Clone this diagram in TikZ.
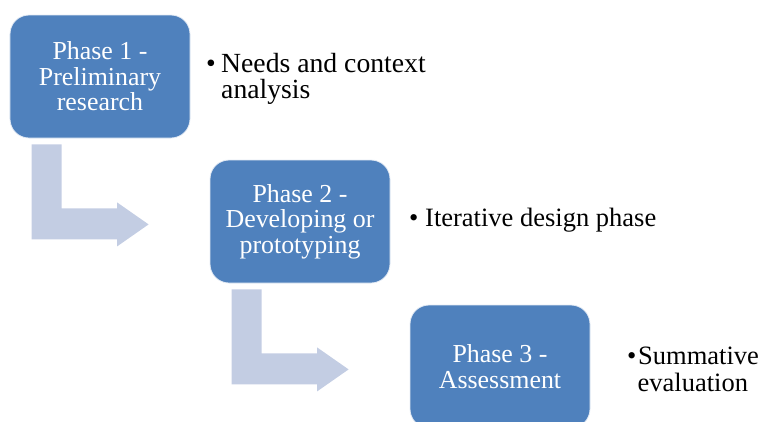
\documentclass[tikz,border=0pt]{standalone}
\usepackage{fontspec}
\setmainfont{Liberation Serif}
\usetikzlibrary{calc}

\definecolor{phaseblue}{HTML}{4F81BD}
\definecolor{arrowgray}{HTML}{C3CDE3}

\tikzset{
    phase/.style={draw=white!85!phaseblue, line width=0.8pt, fill=phaseblue, rounded corners=19bp,
        minimum width=180bp, minimum height=123bp, text=white, align=center,
        font=\fontsize{26}{25.5}\selectfont},
    bullet/.style={anchor=north west, align=left, inner sep=0pt},
    bentarrow/.style={fill=arrowgray, draw=none}
}

\begin{document}
\begin{tikzpicture}[x=1bp, y=-1bp]
    \useasboundingbox (0,0) rectangle (762,421);
    \clip (0,0) rectangle (762,421);

    % Phase boxes
    \node[phase] (p1) at (100,76.5) {Phase 1 -\\Preliminary\\research};
    \node[phase] (p2) at (300,221.5) {Phase 2 -\\Developing or\\prototyping};
    \node[phase] (p3) at (500,366.5) {Phase 3 -\\Assessment};

    % bent arrows between phases
    \foreach \a/\b in {p1/p2, p2/p3} {
        \fill[bentarrow] ($(\a.south west)+(22,6)$) coordinate (v1)
            -- ++(30,0) -- ++(0,64) -- ++(55.5,0) -- ++(0,-6)
            -- ++(31.5,22) -- ++(-31.5,22) -- ++(0,-7) -- ($(v1)+(0,95)$) -- cycle;
    }

    % Bullet texts
    \node[bullet, font=\fontsize{27.8}{26.5}\selectfont] (t1) at (206,53)
        {\makebox[15bp][l]{\textbullet}Needs and context\\\hspace{15bp}analysis};
    \node[bullet, font=\fontsize{26.6}{26.5}\selectfont] (t2) at (409,208)
        {\makebox[16bp][l]{\textbullet}Iterative design phase};
    \node[bullet, font=\fontsize{26.6}{27}\selectfont] (t3) at (627,347)
        {\makebox[11bp][l]{\textbullet}Summative\\\hspace{10.5bp}evaluation};
\end{tikzpicture}
\end{document}
